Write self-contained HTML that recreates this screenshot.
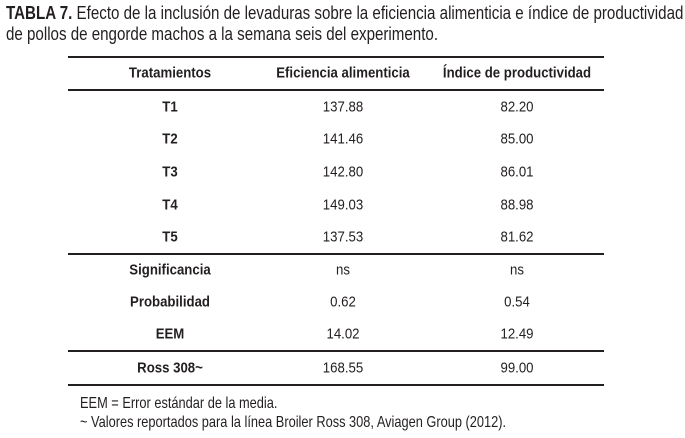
<!DOCTYPE html>
<html><head><meta charset="utf-8"><style>
body{margin:0;width:685px;height:438px;background:#fff;position:relative;overflow:hidden;font-family:"Liberation Sans Narrow","Liberation Sans",sans-serif;color:#231f20}
.t{position:absolute;white-space:nowrap;transform-origin:0 0}
.title{font-size:18px;left:6px;transform:scaleX(0.84)}
.c{position:absolute;transform:translate(-50%,-50%) scaleX(0.88);font-size:15px;white-space:nowrap}
.b{font-weight:bold}
.line{position:absolute;left:68px;width:536px;height:1.5px;background:#231f20}
.fn{font-size:16px;left:80px;transform:scaleX(0.8)}
</style></head><body>
<div class="t title" style="top:3px"><b>TABLA 7.</b> Efecto de la inclusión de levaduras sobre la eficiencia alimenticia e índice de productividad</div>
<div class="t title" style="top:24px">de pollos de engorde machos a la semana seis del experimento.</div>
<div class="line" style="top:56px"></div>
<div class="line" style="top:89px"></div>
<div class="line" style="top:253px"></div>
<div class="line" style="top:350px"></div>
<div class="line" style="top:384px"></div>
<div id="rows"></div>
<div class="t fn" style="top:395px">EEM = Error estándar de la media.</div>
<div class="t fn" style="top:414px">~ Valores reportados para la línea Broiler Ross 308, Aviagen Group (2012).</div>
<script>
const labels=["Tratamientos","T1","T2","T3","T4","T5","Significancia","Probabilidad","EEM","Ross 308~"];
const eficiencia=["Eficiencia alimenticia","137.88","141.46","142.80","149.03","137.53","ns","0.62","14.02","168.55"];
const indice=["Índice de productividad","82.20","85.00","86.01","88.98","81.62","ns","0.54","12.49","99.00"];
const ys=[73,107,139,172,205,237,270,302,334,368];
const xs=[170,343,517];
const host=document.getElementById('rows');
labels.forEach((l,i)=>{
 [l,eficiencia[i],indice[i]].forEach((v,j)=>{
  const d=document.createElement('div');
  d.className='c'+((j==0||i==0)?' b':'');
  d.style.left=xs[j]+'px';d.style.top=ys[i]+'px';
  d.textContent=v;
  
  
  host.appendChild(d);
 });
});
</script>
</body></html>
